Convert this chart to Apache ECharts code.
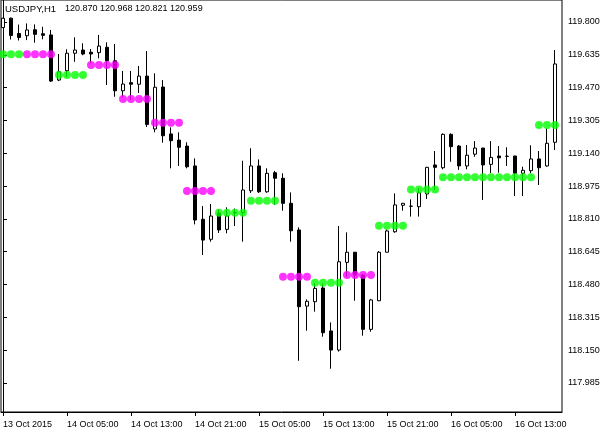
<!DOCTYPE html>
<html>
<head>
<meta charset="utf-8">
<script src="https://cdn.jsdelivr.net/npm/echarts@6/dist/echarts.min.js"></script>
<style>
html,body{margin:0;padding:0;background:#fff;}
#c{width:614px;height:435px;}
</style>
</head>
<body>
<div id="c"></div>
<script>
// ---- data (USDJPY, H1) ----
const symbolTitle = 'USDJPY,H1';
const titleQuote = '120.870 120.968 120.821 120.959';
const timeLabels = ['13 Oct 2015','14 Oct 05:00','14 Oct 13:00','14 Oct 21:00','15 Oct 05:00','15 Oct 13:00','15 Oct 21:00','16 Oct 05:00','16 Oct 13:00'];
const barsPerLabel = 8;
const priceTicks = [117.985,118.150,118.315,118.480,118.645,118.810,118.975,119.140,119.305,119.470,119.635,119.800];

const open = [119.772,119.819,119.742,119.731,119.761,119.741,119.735,119.508,119.555,119.643,
  119.659,119.648,119.646,119.673,119.605,119.454,119.495,119.487,119.528,119.262,
  119.473,119.237,119.206,119.176,119.076,118.808,118.707,118.839,118.757,118.840,
  118.841,118.951,119.076,118.946,119.042,119.014,118.888,118.754,118.371,118.393,
  118.462,118.246,118.150,118.591,118.642,118.527,118.254,118.398,118.642,118.745,
  118.878,118.873,118.871,118.935,119.081,119.067,119.235,119.176,119.076,119.135,
  119.166,119.084,119.126,119.124,119.126,119.039,119.052,119.111,119.076,119.195];
const high = [119.820,119.823,119.787,119.793,119.788,119.776,119.760,119.639,119.663,119.723,
  119.693,119.664,119.735,119.698,119.689,119.554,119.554,119.579,119.654,119.542,
  119.508,119.270,119.245,119.195,119.114,118.874,118.885,118.859,118.868,118.862,
  119.102,119.165,119.109,119.064,119.051,119.039,118.943,118.767,118.405,118.487,
  118.486,118.289,118.774,118.742,118.643,118.532,118.407,118.648,118.757,118.938,
  118.890,118.908,118.965,119.071,119.151,119.240,119.240,119.181,119.181,119.201,
  119.167,119.201,119.176,119.170,119.127,119.072,119.180,119.151,119.265,119.659];
const low = [119.770,119.712,119.707,119.709,119.696,119.713,119.498,119.503,119.523,119.600,
  119.633,119.592,119.617,119.483,119.424,119.420,119.408,119.443,119.272,119.245,
  119.193,119.064,119.076,119.064,118.782,118.628,118.695,118.739,118.737,118.774,
  118.695,118.940,118.940,118.941,118.880,118.851,118.695,118.096,118.247,118.343,
  118.217,118.056,118.142,118.517,118.398,118.222,118.242,118.396,118.641,118.740,
  118.851,118.821,118.821,118.910,118.955,119.059,119.097,119.056,119.059,119.122,
  118.905,119.040,119.042,119.076,118.925,118.925,119.039,118.980,119.072,119.156];
const close = [119.819,119.732,119.722,119.760,119.738,119.733,119.503,119.550,119.643,119.659,
  119.639,119.639,119.679,119.605,119.454,119.488,119.487,119.528,119.285,119.472,
  119.228,119.203,119.170,119.072,118.804,118.703,118.824,118.754,118.824,118.842,
  118.955,119.076,118.946,119.039,119.014,118.888,118.750,118.368,118.395,118.460,
  118.237,118.150,118.594,118.642,118.527,118.254,118.402,118.642,118.749,118.880,
  118.888,118.874,118.941,119.069,119.069,119.235,119.173,119.076,119.130,119.166,
  119.081,119.119,119.117,119.125,119.039,119.054,119.111,119.067,119.190,119.589];
// indicator dots: level per bar and colour side (1 = up/green, 0 = down/magenta)
const dotLevel = [119.638,119.638,119.638,119.638,119.638,119.638,119.638,119.533,119.533,119.533,
  119.533,119.584,119.584,119.584,119.584,119.413,119.413,119.413,119.413,119.293,
  119.293,119.293,119.293,118.950,118.950,118.950,118.950,118.841,118.841,118.841,
  118.841,118.901,118.901,118.901,118.901,118.519,118.519,118.519,118.519,118.489,
  118.489,118.489,118.489,118.527,118.527,118.527,118.527,118.775,118.775,118.775,
  118.775,118.957,118.957,118.957,118.957,119.019,119.019,119.019,119.019,119.019,
  119.019,119.019,119.019,119.019,119.019,119.019,119.019,119.282,119.282,119.282];
const dotSide = [1,1,1,0,0,0,0,1,1,1,
  1,0,0,0,0,0,0,0,0,0,
  0,0,0,0,0,0,0,1,1,1,
  1,1,1,1,1,0,0,0,0,1,
  1,1,1,0,0,0,0,1,1,1,
  1,1,1,1,1,1,1,1,1,1,
  1,1,1,1,1,1,1,1,1,1];

// ---- build chart ----
const candleData = open.map((o, i) => [i, o, close[i], low[i], high[i]]);
const upDots = [], dnDots = [];
dotLevel.forEach((v, i) => { (dotSide[i] ? upDots : dnDots).push([i, v]); });
const labelBars = timeLabels.map((_, i) => i * barsPerLabel);

const FONT = 'Liberation Sans';
const chart = echarts.init(document.getElementById('c'), null, {renderer: 'canvas'});
chart.setOption({
  animation: false,
  backgroundColor: '#ffffff',
  grid: {left: 1, right: 52, top: 0, bottom: 23, show: true, borderColor: '#000', borderWidth: 1, backgroundColor: '#fff'},
  xAxis: {
    type: 'value', min: -0.25, max: 69.875,
    axisLine: {show: true, onZero: false, lineStyle: {color: '#000', width: 1}},
    splitLine: {show: false},
    axisTick: {show: true, customValues: labelBars, length: 4, lineStyle: {color: '#000'}},
    axisLabel: {
      customValues: labelBars, color: '#000', fontFamily: FONT, fontSize: 9, margin: 8,
      align: 'left', formatter: v => timeLabels[Math.round(v / barsPerLabel)]
    }
  },
  yAxis: {
    type: 'value', position: 'right', min: 117.8383, max: 119.9107, scale: true,
    axisLine: {show: true, lineStyle: {color: '#000', width: 1}},
    splitLine: {show: false},
    axisTick: {show: true, customValues: priceTicks, length: 4, lineStyle: {color: '#000'}},
    axisLabel: {customValues: priceTicks, color: '#000', fontFamily: FONT, fontSize: 9, margin: 6,
      formatter: v => v.toFixed(3)}
  },
  series: [
    {
      type: 'candlestick', data: candleData, encode: {x: 0, y: [1, 2, 3, 4]},
      barWidth: 4,
      itemStyle: {color: '#ffffff', color0: '#000000', borderColor: '#000000', borderColor0: '#000000', borderWidth: 1}
    },
    {type: 'scatter', data: upDots, symbol: 'circle', symbolSize: 8, itemStyle: {color: '#00ff00'}, z: 5},
    {type: 'scatter', data: dnDots, symbol: 'circle', symbolSize: 8, itemStyle: {color: '#ff00ff'}, z: 5}
  ],
  graphic: [
    {type: 'text', left: 5, top: 4, style: {text: symbolTitle, fill: '#000', font: '9.5px "Liberation Sans"'}},
    {type: 'text', left: 65, top: 4, style: {text: titleQuote, fill: '#000', font: '9px "Liberation Sans"'}}
  ]
});
</script>
</body>
</html>
